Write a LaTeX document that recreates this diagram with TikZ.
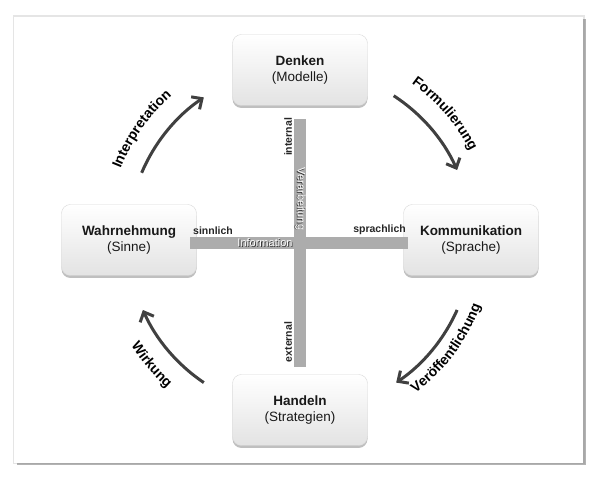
\documentclass[tikz,border=0pt]{standalone}
\usepackage{fontspec}
\setmainfont{Liberation Sans}
\usetikzlibrary{calc,arrows.meta,shadows,decorations.text}

% white label with a dark shadow
\newcommand{\embossed}[1]{\makebox[0pt][l]{\hspace{0.8pt}\raisebox{-0.8pt}{\textcolor{black!80}{#1}}}\textcolor{white}{#1}}
\newcommand{\arcfont}{\bfseries\fontsize{14}{16}\selectfont}

\tikzset{
	stage/.style={rectangle, rounded corners=9pt, minimum width=135pt, minimum height=71pt, align=center,
		draw=gray!30, top color=white, bottom color=gray!22,
		drop shadow={shadow xshift=0pt, shadow yshift=-2.5pt, opacity=0.5},
		font=\fontsize{13.5}{16}\selectfont, text=black!90},
	axis/.style={fill=gray!65},
	axislabel/.style={font=\bfseries\fontsize{10.5}{12}\selectfont, text=black!85, inner sep=0pt},
	axisinner/.style={font=\fontsize{11}{12}\selectfont, inner sep=0pt},
	cyclearrow/.style={line width=3pt, draw=black!75, -{Straight Barb[length=8pt,width=15pt]}},
}

\begin{document}
\begin{tikzpicture}[x=1pt,y=1pt]
	\useasboundingbox (0,0) rectangle (600,481);
	%frame
	\fill[gray!20] (12.5,16.5) rectangle (585,465.5);
	\fill[white, drop shadow={shadow xshift=2.5pt, shadow yshift=-2.5pt, opacity=0.6}] (14,18) rectangle (583,464);
	
	\coordinate (m) at (300,241);
	
	%stages
	\node[stage] (denken) at ($(m)+(0,170)$) {\textbf{Denken}\\(Modelle)};
	\node[stage] (wahrnehmung) at ($(m)+(-171,0)$) {\textbf{Wahrnehmung}\\(Sinne)};
	\node[stage] (kommunikation) at ($(m)+(171,0)$) {\textbf{Kommunikation}\\(Sprache)};
	\node[stage] (handeln) at ($(m)+(0,-170)$) {\textbf{Handeln}\\(Strategien)};
	
	%axes
	\fill[axis] ($(m)+(-6,121)$) rectangle ($(m)+(6,-127)$);
	\fill[axis] ($(m)+(-110,3)$) rectangle ($(m)+(108,-9)$);
	
	\node[axislabel, anchor=south west] (sinnlich) at ($(m)+(-107,5)$) {sinnlich};
	\node[axislabel, anchor=south east] (sprachlich) at ($(m)+(106,5)$) {sprachlich};
	\node[axislabel, rotate=90] (internal) at ($(m)+(-12,103)$) {internal};
	\node[axislabel, rotate=90] (external) at ($(m)+(-12,-102)$) {external};
	\node[axisinner] (information) at ($(m)+(-35,-3)$) {\embossed{Information}};
	\node[axisinner, rotate=-90] (verarbeitung) at ($(m)+(0,41)$) {\embossed{Verarbeitung}};
	
	%arrows
	\foreach \from/\to in {157/124, 57/24, -24/-56, 236/204}{
		\draw[cyclearrow] ($(m)+(\from:172pt)$) arc[start angle=\from, end angle=\to, radius=172pt];
	}
	
	%arrow labels
	\path[decorate, decoration={text along path, text align=center, text={|\arcfont|Interpretation}}]
		($(m)+(175:193pt)$) arc[start angle=175, end angle=115, radius=193pt];
	\path[decorate, decoration={text along path, text align=center, text={|\arcfont|Formulierung}}]
		($(m)+(71:192pt)$) arc[start angle=71, end angle=11, radius=192pt];
	\path[decorate, decoration={text along path, text align=center, text={|\arcfont|Wirkung}}]
		($(m)+(190:199pt)$) arc[start angle=190, end angle=250, radius=199pt];
	\path[decorate, decoration={text along path, text align=center, text={|\arcfont|Veröffentlichung}}]
		($(m)+(-70:192pt)$) arc[start angle=-70, end angle=-3, radius=192pt];
\end{tikzpicture}
\end{document}
